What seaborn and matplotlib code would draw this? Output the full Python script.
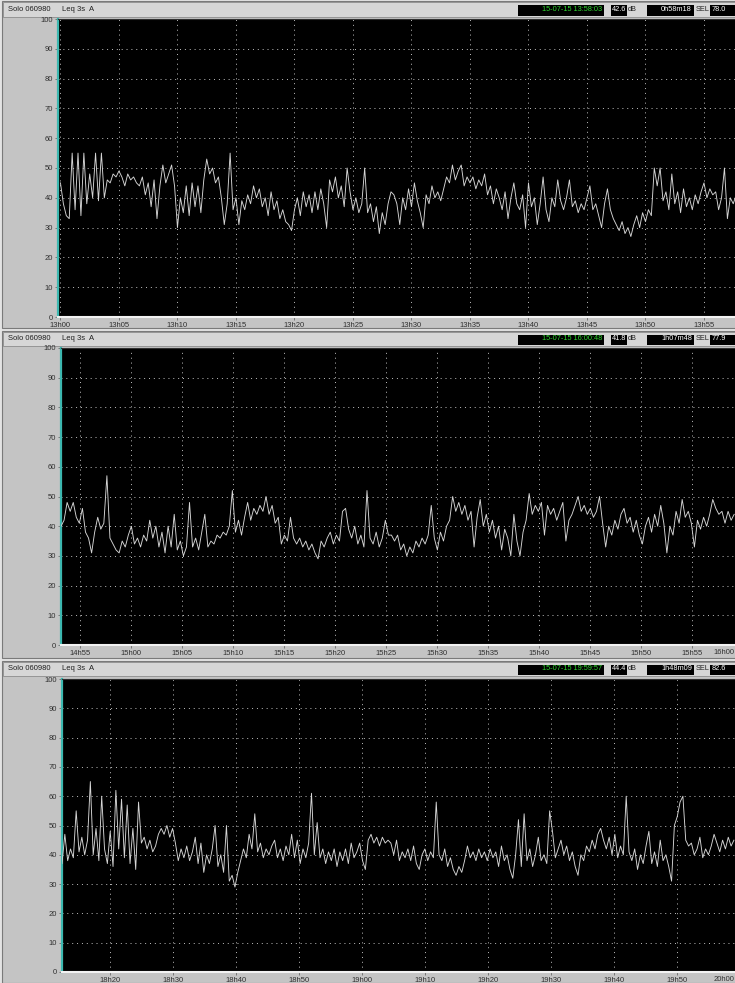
import numpy as np
import matplotlib
matplotlib.use("Agg")
import matplotlib.pyplot as plt
from matplotlib.patches import Rectangle
import seaborn as sns

plt.rcParams['font.family'] = ['Liberation Sans Narrow', 'Liberation Sans', 'DejaVu Sans']

# ---- Leq 3s A (dB) ----
# panel 1: minutes after 13h00, one value every 0.25 min
p1_start, p1_step = 0.0, 0.25
p1_leq = [45, 38, 34, 33, 55, 36, 55, 34, 55, 38,
          48, 40, 55, 39, 55, 40, 46, 45, 48, 47,
          49, 47, 44, 48, 46, 47, 45, 44, 47, 41,
          45, 37, 46, 33, 44, 51, 45, 48, 51, 44,
          30, 40, 35, 44, 34, 45, 37, 44, 35, 46,
          53, 48, 50, 45, 47, 40, 31, 38, 55, 36,
          40, 31, 39, 36, 41, 38, 44, 40, 43, 37,
          40, 34, 42, 36, 39, 33, 36, 32, 31, 29,
          36, 40, 34, 42, 37, 41, 35, 42, 36, 43,
          38, 30, 46, 42, 47, 40, 44, 37, 50, 42,
          36, 40, 35, 38, 50, 35, 38, 32, 37, 28,
          35, 31, 38, 42,
          41, 38, 31, 40, 36, 43, 37, 45, 39, 35,
          30, 41, 38, 44, 40, 42, 39, 43, 47, 45,
          51, 46, 49, 51, 44, 47, 45, 47, 43, 46,
          44, 48, 41, 44, 38, 43, 40, 36, 42, 33,
          40, 45, 38, 36, 41, 30, 45, 37, 40, 31,
          38, 47, 36, 32, 40, 37, 46, 39, 36, 40,
          46, 37, 39, 35, 38, 36, 40, 44, 36, 38,
          34, 30, 38, 43, 36, 33, 31, 29, 32, 28,
          30, 27, 31, 34, 30, 35, 32, 36, 34, 50,
          44, 50, 39, 42, 36, 48, 38, 42, 35, 43,
          37, 40, 36, 41, 38, 42, 45, 40, 43, 41,
          42, 36, 40, 50, 33, 40, 38, 41]
p1_ticks = [0, 5, 10, 15, 20, 25, 30, 35, 40, 45, 50, 55]
p1_labels = ['13h00', '13h05', '13h10', '13h15', '13h20', '13h25',
             '13h30', '13h35', '13h40', '13h45', '13h50', '13h55']
p1_head = ['15-07-15 13:58:03', '42.6', '0h58m18', '78.0']

# panel 2: minutes after 14h55, one value every 0.3 min
p2_start, p2_step = -1.86, 0.3
p2_leq = [40, 42, 48, 45, 48, 43, 41, 46, 38, 36,
          31, 38, 43, 39, 41, 57, 36, 34, 32, 31,
          35, 33, 37, 40, 34, 36, 33, 37, 35, 42,
          36, 40, 33, 38, 31, 40, 33, 44, 32, 35,
          30, 33, 48, 33, 36, 32, 38, 44, 33, 35,
          34, 37, 36, 38, 37, 40, 52, 38, 42, 37,
          43, 48, 42, 46, 44, 47, 45, 50, 44, 47,
          41, 43, 34, 37, 35, 43, 36, 34, 36, 33,
          35, 32, 34, 31, 29, 35, 33, 36, 38, 34,
          37, 35, 45, 46, 39, 36, 40, 34, 37, 33,
          52, 36, 34, 38, 33, 36, 42, 37,
          37, 35, 37, 32, 34, 30, 33, 31, 35, 33,
          36, 34, 37, 47, 36, 32, 38, 35, 40, 42,
          50, 45, 48, 44, 47, 42, 45, 33, 43, 49,
          40, 44, 38, 42, 36, 40, 32, 39, 36, 30,
          44, 35, 30, 38, 42, 51, 44, 47, 45, 48,
          37, 47, 44, 46, 42, 45, 48, 35, 42, 44,
          47, 50, 45, 47, 44, 46, 43, 45, 50, 41,
          33, 40, 37, 42, 39, 44, 46, 41, 43, 38,
          42, 37, 34, 40, 43, 38, 44, 40, 47, 41,
          31, 40, 37, 45, 41, 49, 43, 45, 41, 33,
          42, 39, 43, 40, 44, 49, 46, 44, 45, 41,
          45, 42, 44]
p2_ticks = [0, 5, 10, 15, 20, 25, 30, 35, 40, 45, 50, 55, 60]
p2_labels = ['14h55', '15h00', '15h05', '15h10', '15h15', '15h20', '15h25',
             '15h30', '15h35', '15h40', '15h45', '15h50', '15h55']
p2_last = '16h00'
p2_head = ['15-07-15 16:00:48', '41.8', '1h07m48', '77.9']

# panel 3: minutes after 18h20, one value every 0.45 min
p3_start, p3_step = -7.62, 0.45
p3_leq = [37, 47, 38, 42, 39, 55, 41, 46, 40, 45,
          65, 40, 49, 38, 60, 42, 37, 48, 36, 62,
          42, 59, 39, 57, 37, 49, 35, 58, 44, 46,
          42, 45, 41, 43, 47, 49, 47, 50, 46, 49,
          44, 38, 42, 39, 43, 38, 41, 46, 37, 44,
          34, 40, 37, 42, 50, 36, 40, 34, 50, 31,
          33, 29, 34, 38, 42, 39, 47, 42, 54, 41,
          44, 39, 42, 40, 43, 45, 39, 42, 38, 43,
          40, 47, 39, 45, 37, 42, 39, 44, 61, 40,
          51, 39, 42, 37, 41, 38, 42, 36, 41, 38,
          42, 37, 44, 39, 41, 44, 38, 35, 45, 47,
          44, 46, 43, 46, 44, 45,
          44, 40, 45, 38, 41, 39, 42, 38, 43, 37,
          35, 40, 42, 38, 41, 39, 58, 40, 38, 42,
          36, 39, 35, 33, 36, 34, 38, 43, 39, 41,
          38, 42, 39, 41, 38, 42, 39, 41, 36, 43,
          38, 40, 35, 32, 40, 52, 36, 54, 38, 42,
          36, 40, 46, 38, 40, 37, 55, 48, 39, 42,
          45, 40, 43, 38, 41, 36, 33, 40, 38, 43,
          41, 45, 42, 47, 49, 45, 42, 46, 40, 47,
          39, 43, 40, 60, 41, 38, 42, 35, 40, 37,
          43, 48, 37, 41, 36, 45, 38, 40, 36, 31,
          50, 53, 58, 60, 45, 43, 44, 40, 42, 46,
          39, 42, 40, 43, 47, 44, 41, 45, 42, 46,
          43, 45]
p3_ticks = [0, 10, 20, 30, 40, 50, 60, 70, 80, 90]
p3_labels = ['18h20', '18h30', '18h40', '18h50', '19h00',
             '19h10', '19h20', '19h30', '19h40', '19h50']
p3_last = '20h00'
p3_head = ['15-07-15 19:59:57', '44.4', '1h48m09', '82.6']

y_ticks = [0, 10, 20, 30, 40, 50, 60, 70, 80, 90, 100]

W, H = 735, 983


def frac(x0, y0, x1, y1):
    return [x0 / W, 1 - y1 / H, (x1 - x0) / W, (y1 - y0) / H]


fig = plt.figure(figsize=(W / 100, H / 100), dpi=100, facecolor='#e4e4e4')
chrome = fig.add_axes([0, 0, 1, 1])
chrome.set_xlim(0, W)
chrome.set_ylim(H, 0)
chrome.axis('off')

panels = [
    dict(win=(0, 328), head=(2, 17), box=(58, 19, 735, 317),
         start=p1_start, step=p1_step, leq=p1_leq, xlim=(-0.21, 57.65),
         ticks=p1_ticks, labels=p1_labels, last=None, hdr=p1_head),
    dict(win=(330, 658), head=(332, 346), box=(61, 348, 735, 645),
         start=p2_start, step=p2_step, leq=p2_leq, xlim=(-1.86, 64.22),
         ticks=p2_ticks, labels=p2_labels, last=p2_last, hdr=p2_head),
    dict(win=(660, 983), head=(662, 676), box=(62, 679, 735, 972),
         start=p3_start, step=p3_step, leq=p3_leq, xlim=(-7.62, 99.2),
         ticks=p3_ticks, labels=p3_labels, last=p3_last, hdr=p3_head),
]

for p in panels:
    wy0, wy1 = p['win']
    hy0, hy1 = p['head']
    # window + title bar
    chrome.add_patch(Rectangle((2, wy0 + 0.5), 740, wy1 - wy0 - 1,
                               fc='#c4c4c4', ec='#7a7a7a', lw=0.8))
    chrome.add_patch(Rectangle((3, hy0), 740, hy1 - hy0,
                               fc='#d6d6d6', ec='#8c8c8c', lw=0.6))
    hm = (hy0 + hy1) / 2
    chrome.text(8, hm, 'Solo 060980', fontsize=5.5, va='center', color='#202020')
    chrome.text(62, hm, 'Leq 3s  A', fontsize=5.5, va='center', color='#202020')
    by0, by1 = hy0 + 2.5, hy1 - 1.5
    date, leq, dur, sel = p['hdr']
    for x0, x1 in [(518, 604), (611, 627), (647, 694), (710, 745)]:
        chrome.add_patch(Rectangle((x0, by0), x1 - x0, by1 - by0, fc='black', ec='none'))
    chrome.text(602, hm, date, fontsize=5.3, va='center', ha='right', color='#2ed62e')
    chrome.text(619, hm, leq, fontsize=5.3, va='center', ha='center', color='white')
    chrome.text(628, hm, 'dB', fontsize=5.3, va='center', color='#202020')
    chrome.text(692, hm, dur, fontsize=5.3, va='center', ha='right', color='white')
    chrome.text(696, hm, 'SEL', fontsize=5.3, va='center', color='#202020')
    chrome.text(712, hm, sel, fontsize=5.3, va='center', color='white')

    # the trace itself
    ax = fig.add_axes(frac(*p['box']))
    ax.set_facecolor('black')
    minutes = p['start'] + p['step'] * np.arange(len(p['leq']))
    sns.lineplot(x=minutes, y=p['leq'], ax=ax, color='#d6d6d6',
                 linewidth=0.65, estimator=None, zorder=3)
    ax.set_xlim(*p['xlim'])
    ax.set_ylim(0, 100)
    ax.set_xlabel('')
    ax.set_ylabel('')
    ax.set_yticks(y_ticks)
    ax.set_yticklabels([str(v) for v in y_ticks])
    ax.set_xticks(p['ticks'])
    ax.set_xticklabels(p['labels'])
    ax.tick_params(axis='both', labelsize=5.5, labelcolor='#303030',
                   color='#6a6a6a', length=2, width=0.6, pad=1.5)
    ax.grid(True, color='#c0c0c0', linestyle=(0, (1, 4)), linewidth=0.7)
    ax.set_axisbelow(True)
    ax.spines['left'].set_color('#3cb8b0')
    ax.spines['left'].set_linewidth(1.6)
    ax.spines['bottom'].set_color('#f2f2f2')
    ax.spines['bottom'].set_linewidth(1.5)
    ax.spines['top'].set_color('#303030')
    ax.spines['top'].set_linewidth(0.8)
    ax.spines['right'].set_visible(False)
    if p['last'] is not None:
        # the next hour label sits at the right edge of the window
        ax.text(0.999, -0.012, p['last'], transform=ax.transAxes,
                ha='right', va='top', fontsize=5.5, color='#303030', clip_on=False)

fig.savefig('out.png', dpi=100, facecolor=fig.get_facecolor())
